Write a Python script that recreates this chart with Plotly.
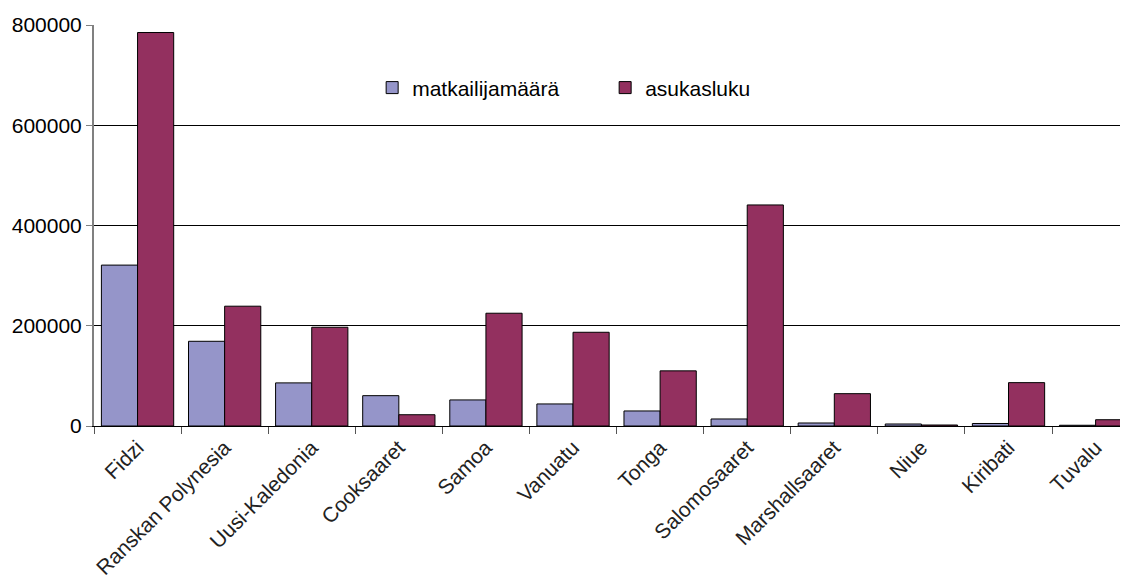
import plotly.graph_objects as go

categories = ["Fidzi", "Ranskan Polynesia", "Uusi-Kaledonia", "Cooksaaret", "Samoa",
              "Vanuatu", "Tonga", "Salomosaaret", "Marshallsaaret", "Niue", "Kiribati", "Tuvalu"]
matkailijamaara = [321000, 169000, 86000, 60500, 52000, 44000, 30000, 14000, 6000, 4000, 5000, 1500]
asukasluku = [785000, 239000, 197000, 22500, 225000, 187000, 110000, 441000, 64500, 2000, 86500, 12500]

fig = go.Figure()
fig.add_trace(go.Bar(x=categories, y=matkailijamaara, name="matkailijamäärä",
                     marker=dict(color="#9595C9", line=dict(color="#000000", width=1))))
fig.add_trace(go.Bar(x=categories, y=asukasluku, name="asukasluku",
                     marker=dict(color="#93305F", line=dict(color="#000000", width=1))))

fig.update_layout(
    width=1120, height=570,
    margin=dict(l=86, r=0, t=17, b=152, autoexpand=False),
    paper_bgcolor="white", plot_bgcolor="white",
    barmode="group", bargap=0.17, bargroupgap=0,
    font=dict(family="Liberation Sans, Arial, sans-serif", size=21, color="#000000"),
    showlegend=True,
    legend=dict(orientation="h", x=0.269, y=0.843, xanchor="left", yanchor="middle",
                entrywidth=188, entrywidthmode="pixels",
                font=dict(size=21), bgcolor="rgba(0,0,0,0)"),
    xaxis=dict(type="category", range=[-0.5, 11.372], tickangle=-45, automargin=False,
               showline=True, linecolor="#000000", linewidth=1,
               ticks="outside", tickson="boundaries", ticklen=7, tickcolor="#555555",
               showgrid=False, tickfont=dict(size=21, color="#222222")),
    yaxis=dict(range=[0, 800000], dtick=200000, tickformat="d", automargin=False,
               showline=True, linecolor="#808080", linewidth=2,
               ticks="outside", ticklen=6, tickcolor="#808080",
               showgrid=True, gridcolor="#000000", gridwidth=1,
               zeroline=False, tickfont=dict(size=21, color="#000000")),
)

fig.write_html("out.html")
